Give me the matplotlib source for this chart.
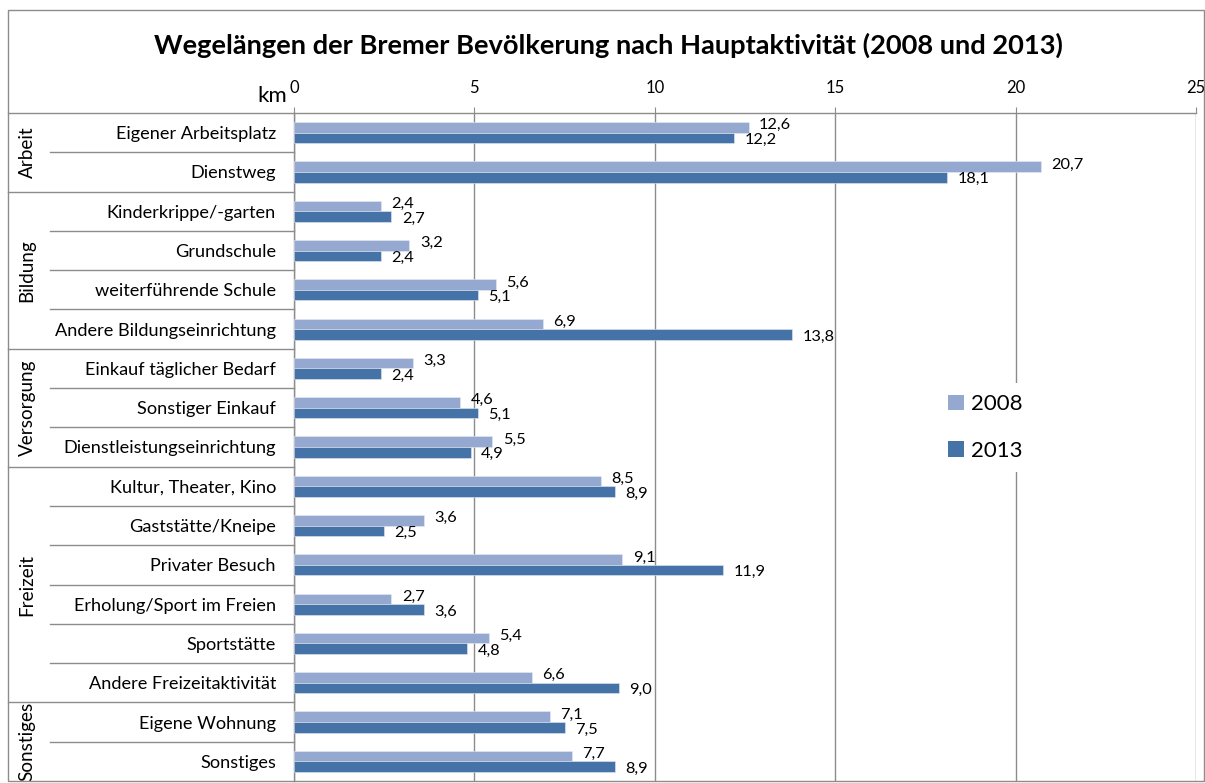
import matplotlib
matplotlib.use("Agg")
import matplotlib.pyplot as plt
from matplotlib.transforms import blended_transform_factory
from matplotlib.lines import Line2D
from matplotlib.patches import Rectangle

# ---------------- data ----------------
categories = [
    "Eigener Arbeitsplatz", "Dienstweg",
    "Kinderkrippe/-garten", "Grundschule", "weiterführende Schule",
    "Andere Bildungseinrichtung",
    "Einkauf täglicher Bedarf", "Sonstiger Einkauf", "Dienstleistungseinrichtung",
    "Kultur, Theater, Kino", "Gaststätte/Kneipe", "Privater Besuch",
    "Erholung/Sport im Freien", "Sportstätte", "Andere Freizeitaktivität",
    "Eigene Wohnung", "Sonstiges",
]
groups = ["Arbeit", "Bildung", "Versorgung", "Freizeit", "Sonstiges"]
group_sizes = [2, 4, 3, 6, 2]
values_2008 = [12.6, 20.7, 2.4, 3.2, 5.6, 6.9, 3.3, 4.6, 5.5, 8.5, 3.6, 9.1, 2.7, 5.4, 6.6, 7.1, 7.7]
values_2013 = [12.2, 18.1, 2.7, 2.4, 5.1, 13.8, 2.4, 5.1, 4.9, 8.9, 2.5, 11.9, 3.6, 4.8, 9.0, 7.5, 8.9]
series_labels = ["2008", "2013"]
x_ticks = [0, 5, 10, 15, 20, 25]
title = "Wegelängen der Bremer Bevölkerung nach Hauptaktivität (2008 und 2013)"

# ---------------- style ----------------
FONT = "Lato"
plt.rcParams["font.family"] = [FONT, "DejaVu Sans"]
W, H = 1205, 783
DPI = 100
c08 = "#94A8D0"
c13 = "#4572A7"
gray = "#8C8C8C"

fig = plt.figure(figsize=(W / DPI, H / DPI), dpi=DPI)

def fx(px):
    return px / W

def fy(py):
    return 1 - py / H

ax_left, ax_right, ax_top, ax_bottom = 294, 1196, 113, 781
ax = fig.add_axes([fx(ax_left), fy(ax_bottom), fx(ax_right - ax_left), (ax_bottom - ax_top) / H])

n = len(categories)
ypos = list(range(n))
bh = 0.27
y08 = [y - bh / 2 for y in ypos]
y13 = [y + bh / 2 for y in ypos]
b1 = ax.barh(y08, values_2008, height=bh, color=c08, edgecolor="#E4EAF4", linewidth=0.4,
             label=series_labels[0], zorder=3)
b2 = ax.barh(y13, values_2013, height=bh, color=c13, edgecolor="#E4EAF4", linewidth=0.4,
             label=series_labels[1], zorder=3)

ax.set_xlim(0, 25)
ax.set_ylim(n - 0.5, -0.5)

# data labels
def fmt(v):
    return f"{v:.1f}".replace(".", ",")

for y, v in zip(y08, values_2008):
    ax.annotate(fmt(v), (v, y), xytext=(7.5, 1.5), textcoords="offset points",
                ha="left", va="center", fontsize=11.8, color="black", zorder=4)
for y, v in zip(y13, values_2013):
    ax.annotate(fmt(v), (v, y), xytext=(7.5, -1.5), textcoords="offset points",
                ha="left", va="center", fontsize=11.8, color="black", zorder=4)

# x axis on top
ax.xaxis.tick_top()
ax.set_xticks(x_ticks)
ax.set_xticklabels([str(t) for t in x_ticks], fontsize=12)
ax.tick_params(axis="x", length=4, width=0.8, color=gray, pad=8)
ax.grid(axis="x", color=gray, linewidth=1.0, zorder=0)
ax.set_axisbelow(True)

# y axis labels
ax.set_yticks(ypos)
ax.set_yticklabels(categories, fontsize=13.1)
ax.tick_params(axis="y", length=0, pad=13)

for s in ["right", "bottom"]:
    ax.spines[s].set_visible(False)
for s in ["left", "top"]:
    ax.spines[s].set_color(gray)
    ax.spines[s].set_linewidth(1.0)

# km axis label
fig.text(fx(287), fy(96), "km", ha="right", va="center", fontsize=16)

# separator lines in the category area
tr = blended_transform_factory(fig.transFigure, ax.transData)
bounds = []
acc = 0
for g in group_sizes:
    acc += g
    bounds.append(acc)
group_ends = set(bounds)
for k in range(1, n):
    xstart = 8 if k in group_ends else 50
    ax.add_line(Line2D([fx(xstart), fx(ax_left)], [k - 0.5, k - 0.5], transform=tr,
                       color=gray, linewidth=1.0, clip_on=False))
ax.add_line(Line2D([fx(8), fx(ax_left)], [-0.5, -0.5], transform=tr,
                   color=gray, linewidth=1.0, clip_on=False))

# group labels
start = 0
for gname, gs in zip(groups, group_sizes):
    center = start + (gs - 1) / 2
    ax.text(fx(27), center, gname, transform=tr, rotation=90, ha="center", va="center",
            fontsize=13.6, clip_on=False)
    start += gs

# outer chart border
fig.add_artist(Rectangle((fx(8), fy(781)), fx(1204 - 8), (781 - 10) / H,
                         transform=fig.transFigure, fill=False, edgecolor=gray, linewidth=1.0))

# title
fig.text(fx(608), fy(45), title, ha="center", va="center", fontsize=19.6, fontweight="bold")

# legend
leg = fig.legend(handles=[b1, b2], labels=series_labels, loc="upper left",
                 bbox_to_anchor=(fx(937), fy(383)), borderaxespad=0, frameon=True,
                 fontsize=16, handlelength=0.7, handleheight=0.7, handletextpad=0.35,
                 labelspacing=1.2, borderpad=0.5)
leg.get_frame().set_facecolor("white")
leg.get_frame().set_edgecolor("none")
leg.get_frame().set_alpha(1)
for hnd in leg.legend_handles:
    hnd.set_edgecolor("none")

fig.savefig("out.png", dpi=DPI)
